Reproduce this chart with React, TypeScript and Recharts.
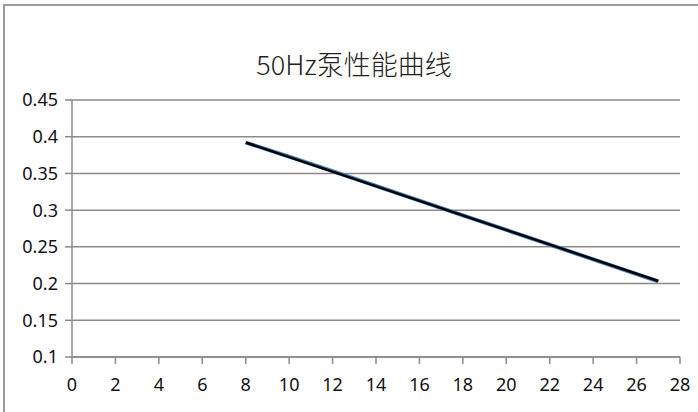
import React from "react";
import { LineChart, Line, XAxis, YAxis, CartesianGrid } from "recharts";

// Measured series (blue) and its linear trendline (black)
const flowX = [8, 10, 12, 14, 16, 18, 20, 22, 24, 26, 27];
const headY = [0.392, 0.373, 0.353, 0.333, 0.313, 0.293, 0.273, 0.253, 0.233, 0.213, 0.203];
const trendX = [8, 27];
const trendY = [0.3922, 0.2035];

const xTicks = [0, 2, 4, 6, 8, 10, 12, 14, 16, 18, 20, 22, 24, 26, 28];
const yTicks = [0.1, 0.15, 0.2, 0.25, 0.3, 0.35, 0.4, 0.45];
const title = "50Hz泵性能曲线";

const seriesData = flowX.map((x, i) => ({ x, y: headY[i] }));
const trendData = trendX.map((x, i) => ({ x, y: trendY[i] }));

const GRID = "#8a8a8a";
const FONT = "'Noto Sans', 'Open Sans', sans-serif";

export default function App() {
  return (
    <div
      style={{
        position: "absolute",
        left: 0,
        top: 0,
        width: 698,
        height: 412,
        overflow: "hidden",
        background: "#fff",
      }}
    >
      <div
        style={{
          position: "absolute",
          left: 3,
          top: 4,
          width: 740,
          height: 460,
          border: "2px solid #9a9a9a",
        }}
      />
      <div
        style={{
          position: "absolute",
          left: 0,
          width: 708,
          top: 46,
          textAlign: "center",
          fontFamily: "'Noto Sans CJK SC', 'Noto Sans', sans-serif",
          fontSize: 27,
          color: "#222",
          lineHeight: "36px",
          fontWeight: 300,
        }}
      >
        {title}
      </div>
      <div style={{ position: "absolute", left: 0, top: 0 }}>
        <LineChart
          width={698}
          height={412}
          margin={{ top: 100, right: 18, bottom: 0, left: 0 }}
        >
          <CartesianGrid horizontal vertical={false} stroke={GRID} strokeWidth={1.5} />
          <XAxis
            type="number"
            dataKey="x"
            domain={[0, 28]}
            ticks={xTicks}
            interval={0}
            height={55}
            tickSize={7}
            tickMargin={14}
            stroke={GRID}
            strokeWidth={1.5}
            tick={{ fill: "#111", fontSize: 18, fontFamily: FONT }}
            allowDataOverflow
          />
          <YAxis
            type="number"
            dataKey="y"
            domain={[0.1, 0.45]}
            ticks={yTicks}
            interval={0}
            width={72}
            tickSize={7}
            tickMargin={7}
            stroke={GRID}
            strokeWidth={1.5}
            tickFormatter={(v: number) => String(v)}
            tick={{ fill: "#111", fontSize: 18, fontFamily: FONT }}
            allowDataOverflow
          />
          <Line
            data={seriesData}
            dataKey="y"
            type="linear"
            stroke="#4a7ebb"
            strokeWidth={4}
            dot={false}
            isAnimationActive={false}
          />
          <Line
            data={trendData}
            dataKey="y"
            type="linear"
            stroke="#000"
            strokeWidth={2.5}
            dot={false}
            isAnimationActive={false}
          />
        </LineChart>
      </div>
    </div>
  );
}
